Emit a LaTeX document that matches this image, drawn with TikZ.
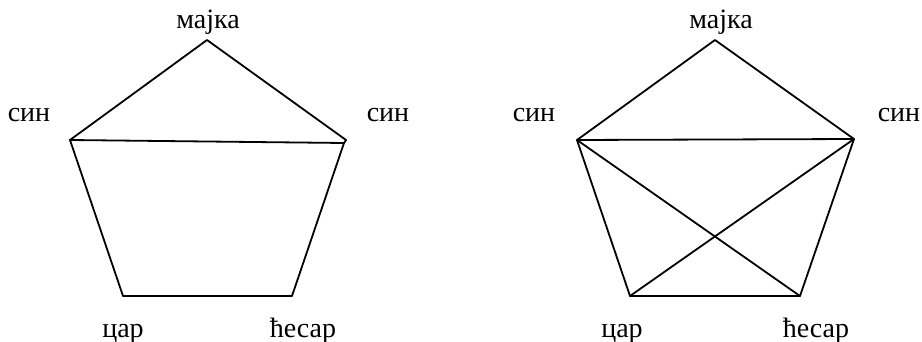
\documentclass[tikz,border=0pt]{standalone}
\usepackage{fontspec}
\setmainfont{Liberation Serif}
\tikzset{
  lbl/.style={inner sep=0pt, anchor=base, font=\fontsize{28}{32}\selectfont},
  edge/.style={line width=1.8pt, line join=round, line cap=round}
}
\begin{document}
\begin{tikzpicture}[x=1pt,y=-1pt]
\useasboundingbox (0,0) rectangle (922,342);
% left pentagon
\coordinate (At) at (207,40);
\coordinate (Al) at (70,140);
\coordinate (Ar) at (346,140);
\coordinate (Abl) at (123,296);
\coordinate (Abr) at (292,296);
\node[lbl] (At-l) at (208,29) {мајка};
\node[lbl] (Al-l) at (29,122) {син};
\node[lbl] (Ar-l) at (388,122) {син};
\node[lbl] (Abl-l) at (123,337) {цар};
\node[lbl] (Abr-l) at (303,337) {ћесар};
\draw[edge] (Al) -- (At) -- (Ar);
\draw[edge] (Al) -- (344,143);
\draw[edge] (Al) -- (Abl) -- (Abr) -- (344,143) -- (Ar);
% right pentagon
\coordinate (Bt) at (715,40);
\coordinate (Bl) at (577,140);
\coordinate (Br) at (854,139);
\coordinate (Bbl) at (630,296);
\coordinate (Bbr) at (800,296);
\node[lbl] (Bt-l) at (721,29) {мајка};
\node[lbl] (Bl-l) at (534,122) {син};
\node[lbl] (Br-l) at (899,122) {син};
\node[lbl] (Bbl-l) at (622,337) {цар};
\node[lbl] (Bbr-l) at (816,337) {ћесар};
\draw[edge] (Bl) -- (Bt) -- (Br) -- (Bbr) -- (Bbl) -- (Bl) -- (Br);
\draw[edge] (Bl) -- (Bbr);
\draw[edge] (Br) -- (Bbl);
\end{tikzpicture}
\end{document}
